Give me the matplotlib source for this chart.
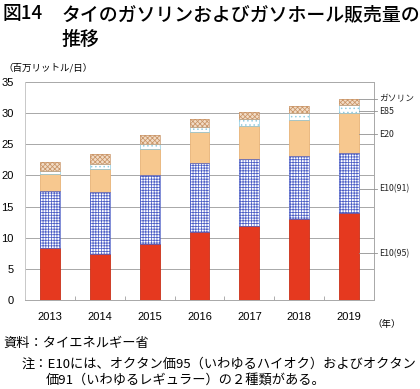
import numpy as np
import matplotlib
matplotlib.use("Agg")
import matplotlib.pyplot as plt

plt.rcParams['font.family'] = ['Noto Sans CJK JP', 'DejaVu Sans']
plt.rcParams['hatch.linewidth'] = 0.55

##### Data (百万リットル/日) #####
years = ['2013', '2014', '2015', '2016', '2017', '2018', '2019']
e10_95 = [8.3, 7.4, 9.0, 10.9, 11.9, 13.0, 13.9]
e10_91 = [9.2, 10.0, 11.1, 11.1, 10.7, 10.1, 9.7]
e20 = [2.7, 3.7, 4.1, 4.9, 5.3, 5.8, 6.5]
e85 = [0.5, 0.7, 0.9, 0.8, 1.1, 1.1, 1.2]
gasoline = [1.5, 1.6, 1.4, 1.4, 1.2, 1.2, 1.0]
series_names = ['E10(95)', 'E10(91)', 'E20', 'E85', 'ガソリン']
yticks = [0, 5, 10, 15, 20, 25, 30, 35]

##### Styles #####
styles = [
    dict(color='#e5391f', hatch=None, hcolor='#c93018'),
    dict(color='white', hatch='++++++', hcolor='#4d5fc6'),
    dict(color='#f7c88f', hatch=None, hcolor='#e8b277'),
    dict(color='white', hatch='....', hcolor='#8ecbe0'),
    dict(color='#f2dcc6', hatch='xxxxxxx', hcolor='#c99466'),
]
label_y = [7.5, 17.9, 26.6, 30.3, 32.3]

fig = plt.figure(figsize=(4.2, 3.89), dpi=100)
ax = fig.add_axes([25/420, 1-300/389, 349/420, 218/389])

x = np.arange(len(years))
bottom = np.zeros(len(years))
for vals, st in zip([e10_95, e10_91, e20, e85, gasoline], styles):
    vals = np.array(vals)
    if st['hatch']:
        ax.bar(x, vals, 0.4, bottom=bottom, color=st['color'], hatch=st['hatch'],
               edgecolor=st['hcolor'], linewidth=0, zorder=3)
        ax.bar(x, vals, 0.4, bottom=bottom, color='none',
               edgecolor=st['hcolor'], linewidth=0.5, zorder=4)
    else:
        ax.bar(x, vals, 0.4, bottom=bottom, color=st['color'],
               edgecolor=st['hcolor'], linewidth=0.6, zorder=3)
    bottom = bottom + vals

##### Right side labels #####
for name, ly in zip(series_names, label_y):
    ax.plot([6.2, 6.56], [ly, ly], color='#909090', lw=0.6, clip_on=False, zorder=5)
    ax.text(6.6, ly, name, fontsize=6.3, va='center', ha='left', color='#222222')

ax.set_xlim(-0.5, 6.5)
ax.set_ylim(0, 35)
ax.set_yticks(yticks)
ax.set_yticklabels([str(v) for v in yticks], family='Liberation Sans', fontsize=8)
ax.set_xticks(x)
ax.set_xticklabels(years, family='Liberation Sans', fontsize=8)
ax.set_xticks(np.arange(-0.5, 6.6, 1), minor=True)
ax.tick_params(axis='x', which='major', length=0, pad=9)
ax.tick_params(axis='x', which='minor', direction='in', length=3, color='#a0a0a0')
ax.tick_params(axis='y', length=0, pad=8)
ax.grid(axis='y', color='#a8a8a8', lw=0.7, zorder=0)
ax.spines['top'].set_visible(False)
ax.spines['left'].set_color('#c8c8c8')
ax.spines['right'].set_color('#a8a8a8')
ax.spines['bottom'].set_color('#a8a8a8')
for s in ax.spines.values():
    s.set_linewidth(0.7)

##### Texts #####
fig.text(3/420, 1-4/389, '図14', fontsize=13.5, va='top', ha='left', weight='medium')
fig.text(62/420, 1-4/389, 'タイのガソリンおよびガソホール販売量の', fontsize=13.6,
         va='top', ha='left', weight='medium')
fig.text(62/420, 1-29/389, '推移', fontsize=13.6, va='top', ha='left', weight='medium')
fig.text(3/420, 1-68/389, '（百万リットル/日）', fontsize=6.8, va='center', ha='left')
fig.text(372/420, 1-324/389, '（年）', fontsize=6.8, va='center', ha='left')
fig.text(3/420, 1-343/389, '資料：タイエネルギー省', fontsize=9.5, va='center', ha='left')
fig.text(22/420, 1-364/389, '注：E10には、オクタン価95（いわゆるハイオク）およびオクタン',
         fontsize=9.5, va='center', ha='left')
fig.text(46/420, 1-380/389, '価91（いわゆるレギュラー）の２種類がある。',
         fontsize=9.5, va='center', ha='left')

fig.savefig('out.png', dpi=100)
